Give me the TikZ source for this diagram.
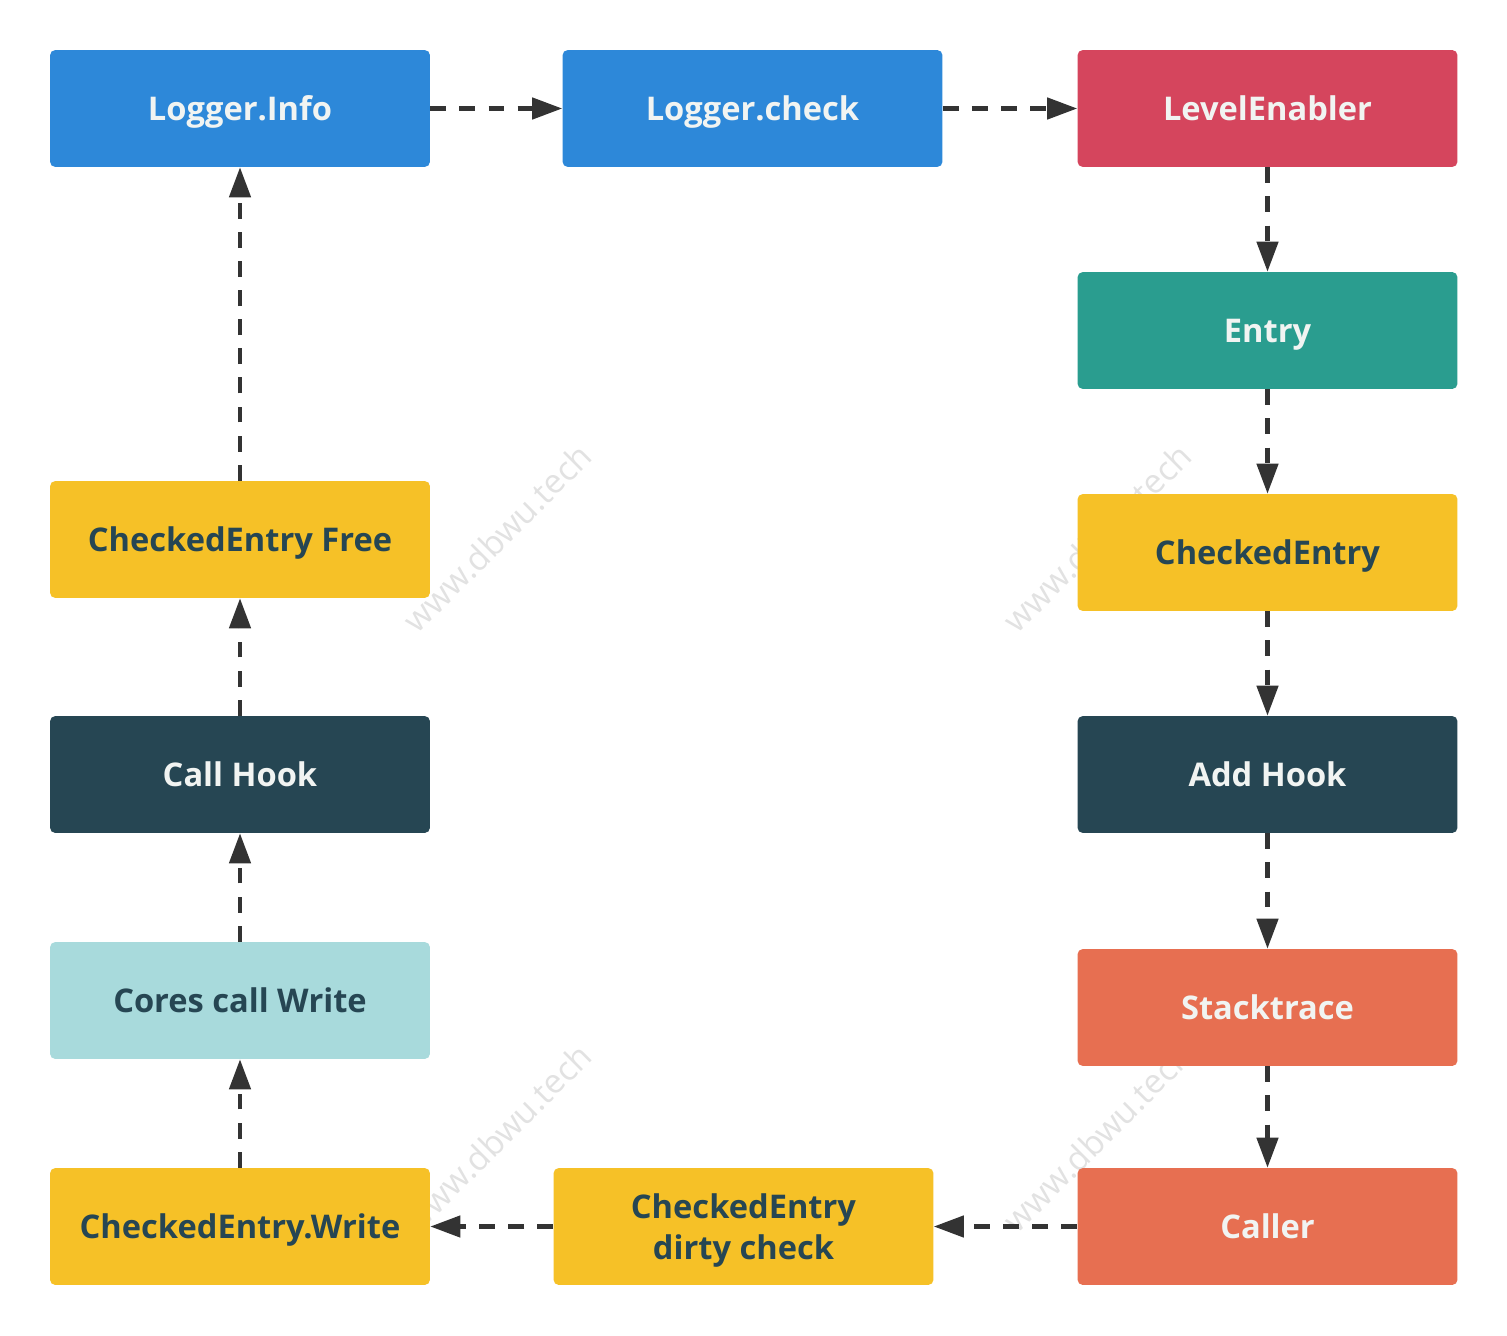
\documentclass[tikz,border=0pt]{standalone}
\usepackage{fontspec}
\setmainfont{Open Sans}
\usetikzlibrary{arrows.meta}
\definecolor{cblue}{HTML}{2D88D9}
\definecolor{cred}{HTML}{D5455D}
\definecolor{cteal}{HTML}{2A9D8F}
\definecolor{cyellow}{HTML}{F6C127}
\definecolor{cdark}{HTML}{264653}
\definecolor{corange}{HTML}{E76F51}
\definecolor{clight}{HTML}{A8DADC}
\definecolor{ctxtw}{HTML}{F1F4F2}
\definecolor{carrow}{HTML}{333333}
\definecolor{cwm}{HTML}{E2E2E2}
\tikzset{
  box/.style={rectangle, rounded corners=3pt, minimum width=215.4pt, minimum height=66.3pt,
    inner sep=0pt, align=center, text height=13.2pt, text depth=0pt,
    font=\fontsize{18.5}{23}\selectfont\bfseries},
  lightbox/.style={box, text=ctxtw},
  darkbox/.style={box, text=cdark},
  twoline/.style={text height=, text depth=},
  flow/.style={draw=carrow, line width=2.3pt, dash pattern=on 9pt off 7.5pt,
    -{Triangle[length=17pt,width=12pt]}},
  wm/.style={text=cwm, rotate=45, font=\fontsize{19}{22}\selectfont}
}
\begin{document}
\begin{tikzpicture}[x=0.5669pt,y=-0.5669pt]
\useasboundingbox[fill=white] (0,0) rectangle (1507,1336);
% watermarks
\node[wm] (wm1) at (497,538) {www.dbwu.tech};
\node[wm] (wm2) at (1097,538) {www.dbwu.tech};
\node[wm] (wm3) at (497,1138) {www.dbwu.tech};
\node[wm] (wm4) at (1097,1138) {www.dbwu.tech};
% boxes
\node[lightbox, fill=cblue] (info) at (240,108.5) {Logger.Info};
\node[lightbox, fill=cblue] (check) at (752.5,108.5) {Logger.check};
\node[lightbox, fill=cred] (level) at (1267.5,108.5) {LevelEnabler};
\node[lightbox, fill=cteal] (entry) at (1267.5,330.5) {Entry};
\node[darkbox, fill=cyellow] (centry) at (1267.5,552.5) {CheckedEntry};
\node[lightbox, fill=cdark] (addhook) at (1267.5,774.5) {Add Hook};
\node[lightbox, fill=corange] (stack) at (1267.5,1007.5) {Stacktrace};
\node[lightbox, fill=corange] (caller) at (1267.5,1226.5) {Caller};
\node[darkbox, twoline, fill=cyellow] (dirty) at (743.5,1226.5) {\rule{0pt}{18.8pt}CheckedEntry\\dirty check};
\node[darkbox, fill=cyellow] (write) at (240,1226.5) {CheckedEntry.Write};
\node[darkbox, fill=clight] (cores) at (240,1000.5) {Cores call Write};
\node[lightbox, fill=cdark] (callhook) at (240,774.5) {Call Hook};
\node[darkbox, fill=cyellow] (free) at (240,539.5) {CheckedEntry Free};
% connectors
\draw[flow] (info) -- (check);
\draw[flow] (check) -- (level);
\draw[flow] (level) -- (entry);
\draw[flow] (entry) -- (centry);
\draw[flow] (centry) -- (addhook);
\draw[flow] (addhook) -- (stack);
\draw[flow] (stack) -- (caller);
\draw[flow] (caller) -- (dirty);
\draw[flow] (dirty) -- (write);
\draw[flow] (write) -- (cores);
\draw[flow] (cores) -- (callhook);
\draw[flow] (callhook) -- (free);
\draw[flow] (free) -- (info);
\end{tikzpicture}
\end{document}
